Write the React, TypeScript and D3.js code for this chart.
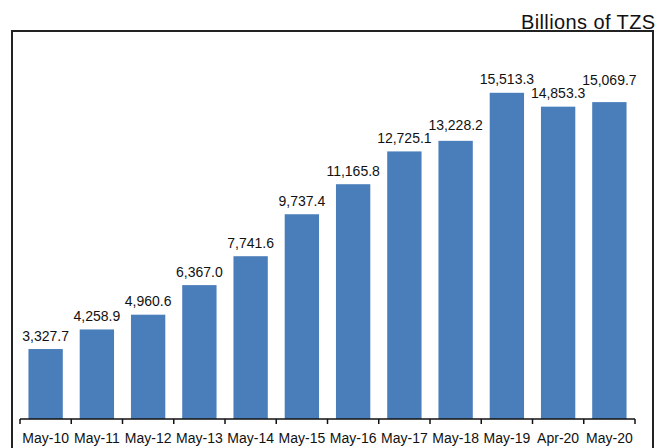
import React from "react";
import * as d3 from "d3";

const categories = ["May-10","May-11","May-12","May-13","May-14","May-15","May-16","May-17","May-18","May-19","Apr-20","May-20"];
const values = [3327.7, 4258.9, 4960.6, 6367.0, 7741.6, 9737.4, 11165.8, 12725.1, 13228.2, 15513.3, 14853.3, 15069.7];
const unitLabel = "Billions of TZS";

const W = 667, H = 448;
const x0 = 20, x1 = 635, yBase = 419;
const FONT = "'Liberation Sans', Arial, Helvetica, sans-serif";

export default function App() {
  const x = d3.scaleBand<string>().domain(categories).range([x0, x1]).paddingInner(0.33).paddingOuter(0.165);
  const y = d3.scaleLinear().domain([0, 18000]).range([yBase, 40.5]);
  const fmt = d3.format(",.1f");
  const step = x.step();
  const ticks = d3.range(categories.length + 1).map(i => x0 + i * step);

  const fs = 14;
  const labels: { cx: number; y: number; w: number; t: string }[] = [];
  values.forEach((v, i) => {
    const t = fmt(v);
    const cx = (x(categories[i]) as number) + x.bandwidth() / 2;
    const w = t.length * fs * 0.5;
    let ly = y(v) - 8.5;
    const prev = labels[i - 1];
    if (prev) {
      const overlapX = Math.abs(prev.cx - cx) < (prev.w + w) / 2;
      if (overlapX && Math.abs(prev.y - ly) < 13) ly = prev.y - 13;
    }
    labels.push({ cx, y: ly, w, t });
  });

  return (
    <svg width={W} height={H} style={{ position: "absolute", left: 0, top: 0 }} fontFamily={FONT}>
      <rect width={W} height={H} fill="#fff" />
      <path d={`M12,${H + 2}V31H653V${H + 2}`} fill="none" stroke="#222" strokeWidth={2} />
      <text x={655.5} y={28.5} textAnchor="end" fontSize={20} letterSpacing={0.4} fill="#111">{unitLabel}</text>
      {values.map((v, i) => (
        <rect key={i} x={x(categories[i])} y={y(v)} width={x.bandwidth()} height={yBase - y(v)} fill="#4a7ebb" />
      ))}
      {labels.map((l, i) => (
        <text key={i} x={l.cx} y={l.y} textAnchor="middle" fontSize={fs} fill="#111">{l.t}</text>
      ))}
      <line x1={x0} x2={x1} y1={yBase} y2={yBase} stroke="#111" strokeWidth={1.5} />
      {ticks.map((t, i) => (
        <line key={i} x1={t} x2={t} y1={yBase} y2={yBase + 5} stroke="#111" strokeWidth={1.5} />
      ))}
      {categories.map((c, i) => (
        <text key={c} x={(x(c) as number) + x.bandwidth() / 2} y={443} textAnchor="middle" fontSize={14} fill="#111">{c}</text>
      ))}
    </svg>
  );
}
